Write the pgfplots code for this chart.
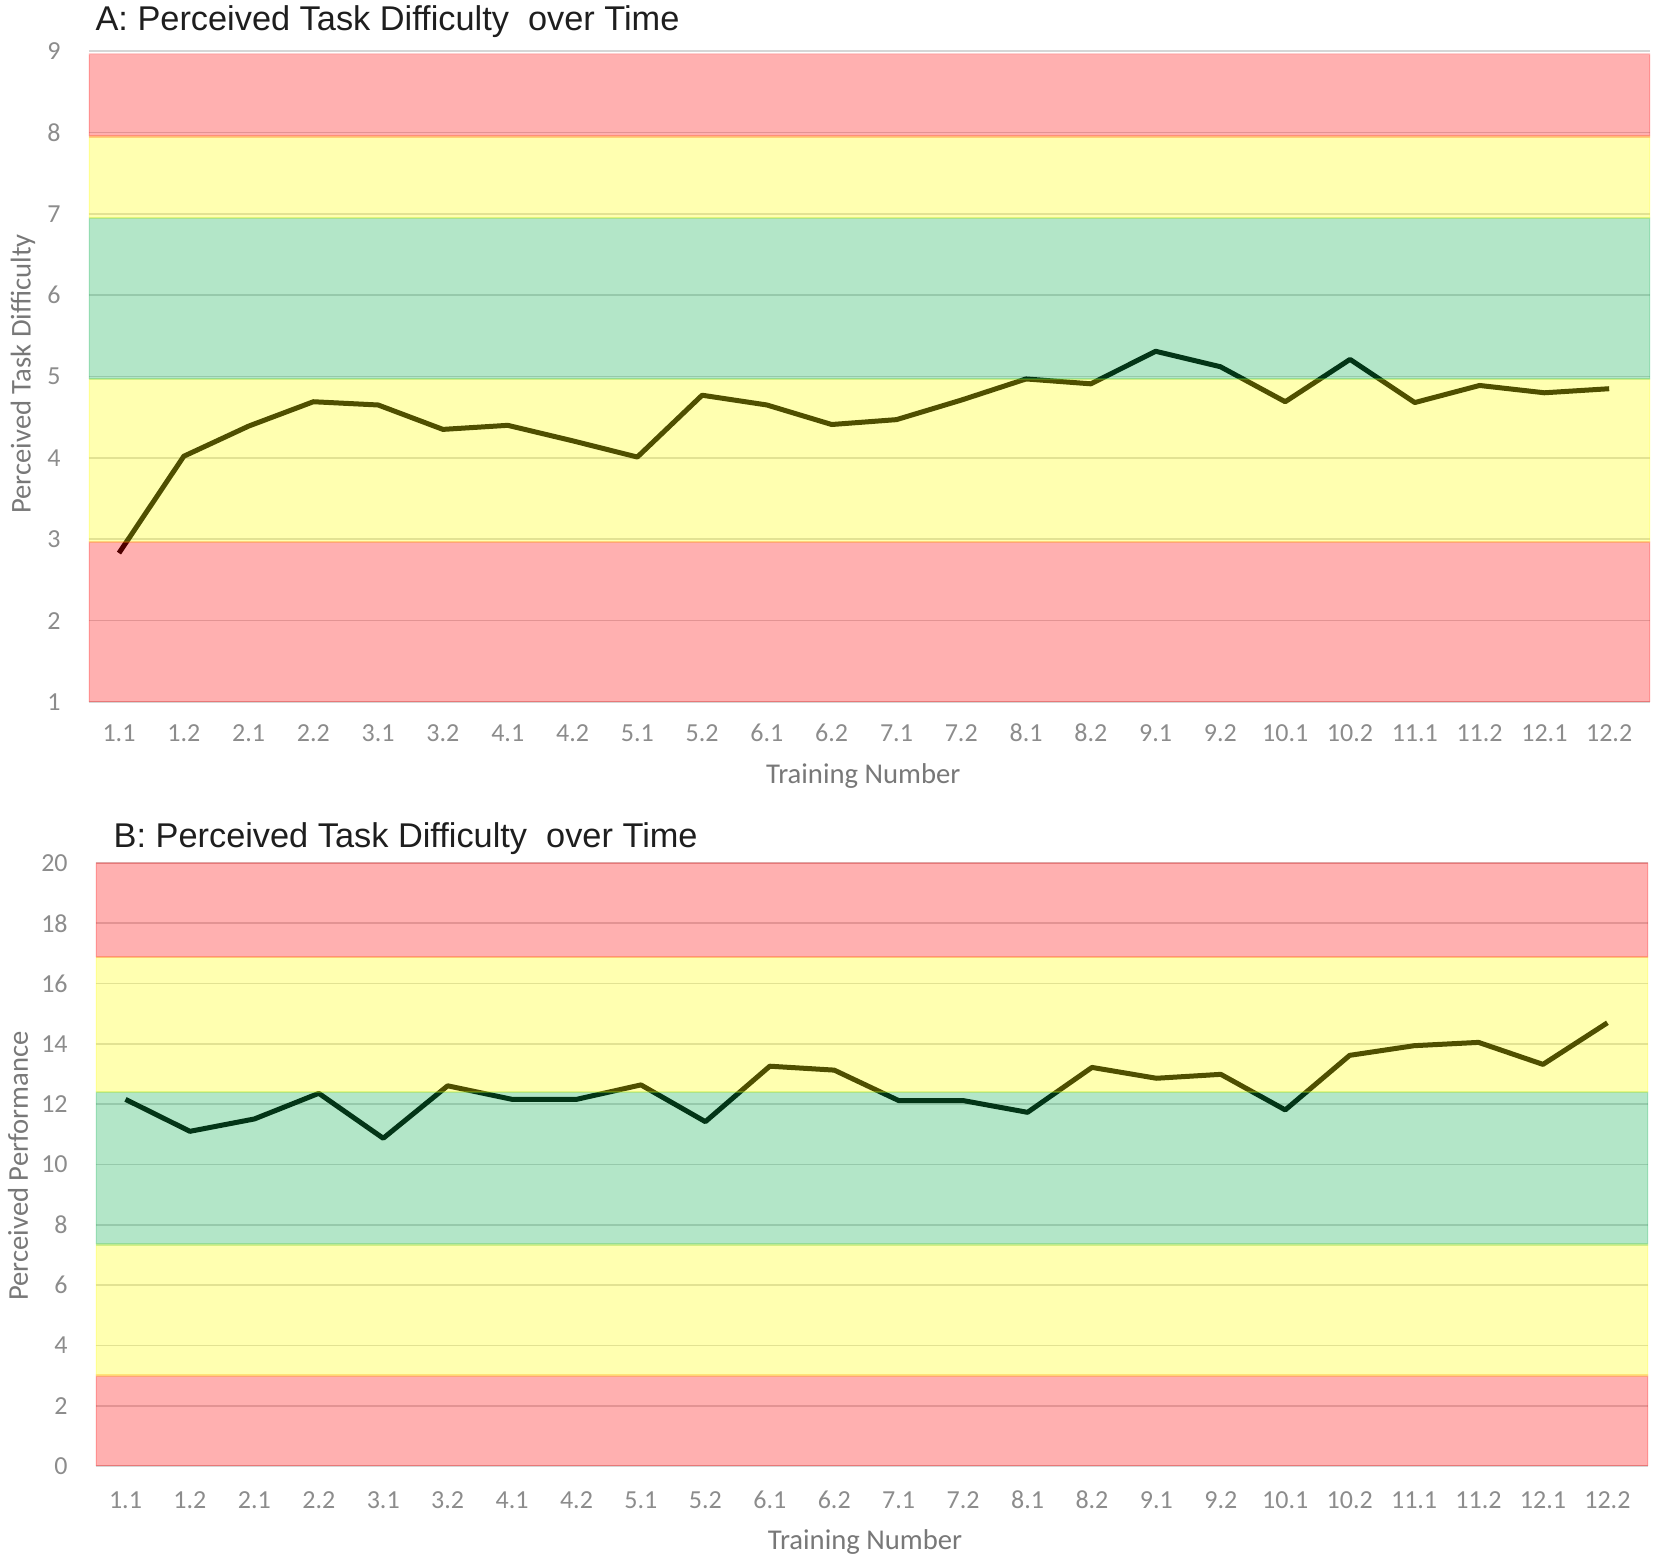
\documentclass[border=0pt]{standalone}
\usepackage{fontspec}
\setmainfont{Carlito}
\newfontfamily\titlefont{Liberation Sans}
\usepackage{pgfplots}
\pgfplotsset{compat=1.18}
\definecolor{bandred}{RGB}{255,0,0}
\definecolor{bandyellow}{RGB}{255,255,0}
\definecolor{bandgreen}{RGB}{10,174,77}
\definecolor{ticktext}{RGB}{140,140,140}
\definecolor{labeltext}{RGB}{120,120,120}
\definecolor{titletext}{RGB}{30,30,30}

\pgfplotsset{
  every axis title shift=0pt,
  band/.style={draw=#1, draw opacity=0.18, line width=0.7pt, fill=#1, fill opacity=0.31, forget plot},
  common/.style={
    scale only axis, anchor=south west,
    axis line style={draw=none}, major tick length=0pt, tick style={draw=none},
    ymajorgrids, major grid style={draw=black!16, line width=0.5pt},
    xtick={0,...,23},
    xticklabels={1.1,1.2,2.1,2.2,3.1,3.2,4.1,4.2,5.1,5.2,6.1,6.2,7.1,7.2,8.1,8.2,9.1,9.2,10.1,10.2,11.1,11.2,12.1,12.2},
    /pgf/number format/assume math mode=true,
    tick label style={font=\fontsize{7.8}{9}\selectfont, text=ticktext},
    label style={font=\fontsize{8.6}{10}\selectfont, text=labeltext},
    yticklabel style={anchor=east, inner sep=0pt, xshift=-8.3pt},
    xticklabel style={anchor=center, inner sep=0pt},
    title style={anchor=base west, inner sep=0pt, font=\titlefont\fontsize{10.3}{12}\selectfont, text=titletext},
    xmin=-0.463, xmax=23.63,
  },
  dataline/.style={black, line width=1.5pt, line join=round, mark=none},
}

\pgfplotstableread{
x y
0 2.83
1 4.02
2 4.39
3 4.69
4 4.65
5 4.35
6 4.40
7 4.21
8 4.01
9 4.77
10 4.65
11 4.41
12 4.47
13 4.71
14 4.97
15 4.91
16 5.31
17 5.12
18 4.69
19 5.21
20 4.68
21 4.89
22 4.80
23 4.85
}\tableA

\pgfplotstableread{
x y
0 12.16
1 11.10
2 11.51
3 12.36
4 10.87
5 12.61
6 12.16
7 12.16
8 12.64
9 11.42
10 13.26
11 13.13
12 12.12
13 12.12
14 11.73
15 13.22
16 12.86
17 12.99
18 11.81
19 13.62
20 13.94
21 14.05
22 13.32
23 14.70
}\tableB

\begin{document}
\begin{tikzpicture}
\useasboundingbox (0,0) rectangle (496.2pt,468.6pt);

\begin{axis}[common,
  at={(26.7pt,258pt)},
  width=468.3pt, height=195.3pt,
  ymin=1, ymax=9, ytick={1,...,9},
  xticklabel style={yshift=-9.3pt},
  title={A: Perceived Task Difficulty\ \ over Time},
  title style={at={(axis description cs:0.0038,1.031)}},
  xlabel={Training Number},
  xlabel style={at={(axis description cs:0.496,-0.114)}, anchor=center},
  ylabel={Perceived Task Difficulty},
  ylabel style={at={(axis description cs:-0.0423,0.504)}, anchor=center},
]
\addplot[dataline] table[x=x,y=y]{\tableA};
\addplot[band=bandred] coordinates {(-0.463,1) (23.63,1) (23.63,2.97) (-0.463,2.97) (-0.463,1)};
\addplot[band=bandyellow] coordinates {(-0.463,2.97) (23.63,2.97) (23.63,4.97) (-0.463,4.97) (-0.463,2.97)};
\addplot[band=bandgreen] coordinates {(-0.463,4.97) (23.63,4.97) (23.63,6.95) (-0.463,6.95) (-0.463,4.97)};
\addplot[band=bandyellow] coordinates {(-0.463,6.95) (23.63,6.95) (23.63,7.95) (-0.463,7.95) (-0.463,6.95)};
\addplot[band=bandred] coordinates {(-0.463,7.95) (23.63,7.95) (23.63,8.96) (-0.463,8.96) (-0.463,7.95)};
\end{axis}

\begin{axis}[common,
  at={(28.8pt,28.8pt)},
  width=465.6pt, height=180.9pt,
  xmin=-0.458, xmax=23.63,
  ymin=0, ymax=20, ytick={0,2,...,20},
  xticklabel style={yshift=-10.2pt},
  title={B: Perceived Task Difficulty\ \ over Time},
  title style={at={(axis description cs:0.011,1.025)}},
  xlabel={Training Number},
  xlabel style={at={(axis description cs:0.4955,-0.126)}, anchor=center},
  ylabel={Perceived Performance},
  ylabel style={at={(axis description cs:-0.0503,0.4975)}, anchor=center},
]
\addplot[dataline] table[x=x,y=y]{\tableB};
\addplot[band=bandred] coordinates {(-0.458,0) (23.63,0) (23.63,3) (-0.458,3) (-0.458,0)};
\addplot[band=bandyellow] coordinates {(-0.458,3) (23.63,3) (23.63,7.35) (-0.458,7.35) (-0.458,3)};
\addplot[band=bandgreen] coordinates {(-0.458,7.35) (23.63,7.35) (23.63,12.4) (-0.458,12.4) (-0.458,7.35)};
\addplot[band=bandyellow] coordinates {(-0.458,12.4) (23.63,12.4) (23.63,16.88) (-0.458,16.88) (-0.458,12.4)};
\addplot[band=bandred] coordinates {(-0.458,16.88) (23.63,16.88) (23.63,20) (-0.458,20) (-0.458,16.88)};
\end{axis}
\end{tikzpicture}
\end{document}
